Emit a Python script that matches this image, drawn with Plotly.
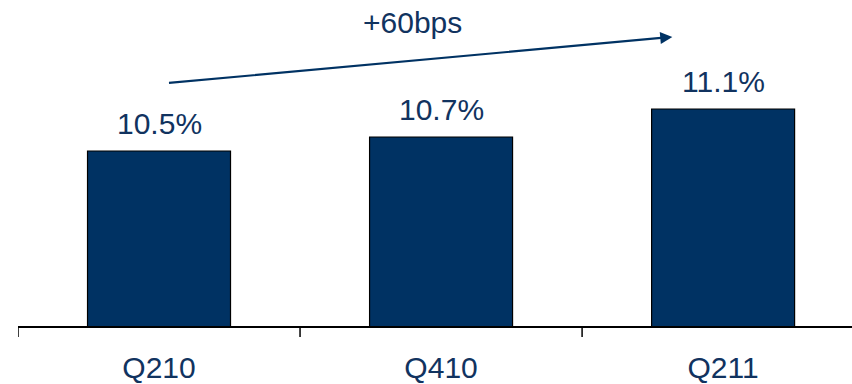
import plotly.graph_objects as go

# Quarterly margin, percent
quarters = ["Q210", "Q410", "Q211"]
margin_pct = [10.5, 10.7, 11.1]
value_labels = ["10.5%", "10.7%", "11.1%"]
change_label = "+60bps"

# Trend arrow endpoints (category index, value)
arrow_start = (0.03, 11.47)
arrow_end = (1.82, 12.13)
change_label_pos = (0.90, 12.34)

NAVY = "#003263"
TEXT = "#11335f"
FONT = "Liberation Sans, Arial, sans-serif"

fig = go.Figure(
    go.Bar(
        x=list(range(len(quarters))),
        y=margin_pct,
        width=0.507,
        marker=dict(color=NAVY, line=dict(color="#000000", width=1.2)),
        cliponaxis=False,
        hoverinfo="skip",
    )
)

# Value labels above each bar
for i, (v, lab) in enumerate(zip(margin_pct, value_labels)):
    fig.add_annotation(
        x=i, y=v, xref="x", yref="y", text=lab, showarrow=False,
        yanchor="middle", yshift=27,
        font=dict(family=FONT, size=30, color=TEXT),
    )

fig.add_annotation(
    x=arrow_end[0], y=arrow_end[1], xref="x", yref="y",
    ax=arrow_start[0], ay=arrow_start[1], axref="x", ayref="y",
    showarrow=True, arrowhead=2, arrowsize=1.1, arrowwidth=2.2,
    arrowcolor=NAVY, text="",
)
fig.add_annotation(
    x=change_label_pos[0], y=change_label_pos[1], xref="x", yref="y",
    text=change_label, showarrow=False, yanchor="middle",
    font=dict(family=FONT, size=30, color=TEXT),
)

fig.update_layout(
    width=852, height=384,
    margin=dict(l=18, r=0, t=0, b=58, autoexpand=False),
    paper_bgcolor="white", plot_bgcolor="white",
    showlegend=False,
    xaxis=dict(
        range=[-0.5, 2.457],
        tickmode="array",
        tickvals=list(range(len(quarters))),
        ticktext=quarters,
        showline=True, linecolor="#000000", linewidth=1.5,
        showgrid=False, zeroline=False,
        ticks="",
        automargin=False,
        ticklabelstandoff=14,
        tickfont=dict(family=FONT, size=30, color=TEXT),
    ),
    yaxis=dict(
        range=[8.0, 12.657],
        visible=False,
        automargin=False,
    ),
)

# Boundary tick marks below the axis line
for b in [-0.5, 0.5, 1.5]:
    fig.add_shape(
        type="line", xref="x", yref="paper",
        x0=b, x1=b, y0=0, y1=-11 / 326,
        line=dict(color="#000000", width=1.5),
    )

fig.write_html("out.html")
